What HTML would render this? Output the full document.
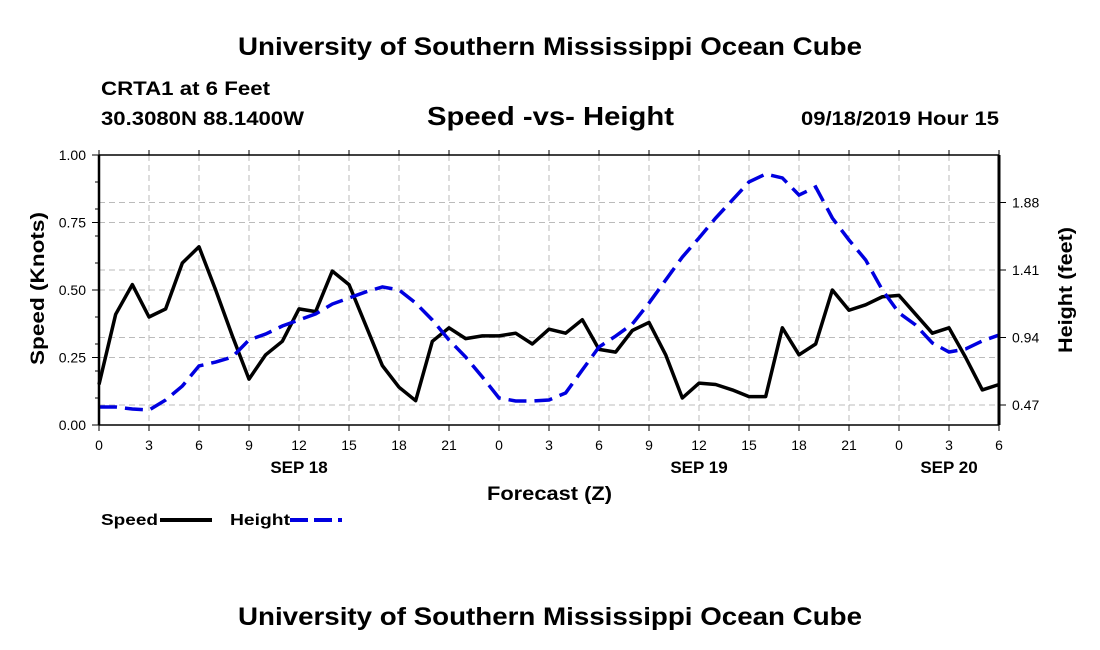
<!DOCTYPE html>
<html><head><meta charset="utf-8"><style>
body{margin:0;background:#fff;}
svg{display:block;font-family:"Liberation Sans",Arial,sans-serif;}
</style></head><body>
<svg id="chart" width="1100" height="650" viewBox="0 0 1100 650" xmlns="http://www.w3.org/2000/svg">
<text x="238" y="55" font-size="25" font-weight="bold" textLength="624" lengthAdjust="spacingAndGlyphs">University of Southern Mississippi Ocean Cube</text>
<text x="101" y="95" font-size="19" font-weight="bold" textLength="169" lengthAdjust="spacingAndGlyphs">CRTA1 at 6 Feet</text>
<text x="101" y="125" font-size="19" font-weight="bold" textLength="203" lengthAdjust="spacingAndGlyphs">30.3080N 88.1400W</text>
<text x="427" y="125" font-size="26" font-weight="bold" textLength="247" lengthAdjust="spacingAndGlyphs">Speed -vs- Height</text>
<text x="801" y="125" font-size="19" font-weight="bold" textLength="198" lengthAdjust="spacingAndGlyphs">09/18/2019 Hour 15</text>
<g id="grid"></g>
<g id="series"></g>
<g id="axes"></g>
<text transform="translate(44,365) rotate(-90)" font-size="19" font-weight="bold" textLength="153" lengthAdjust="spacingAndGlyphs">Speed (Knots)</text>
<text transform="translate(1072,353) rotate(-90)" font-size="19" font-weight="bold" textLength="126" lengthAdjust="spacingAndGlyphs">Height (feet)</text>
<text x="487" y="500" font-size="19" font-weight="bold" textLength="125" lengthAdjust="spacingAndGlyphs">Forecast (Z)</text>
<g>
<text x="101" y="525" font-size="16" font-weight="bold" textLength="57" lengthAdjust="spacingAndGlyphs">Speed</text>
<line x1="160" y1="520" x2="212" y2="520" stroke="#000" stroke-width="4"/>
<text x="230" y="525" font-size="16" font-weight="bold" textLength="60" lengthAdjust="spacingAndGlyphs">Height</text>
<line x1="290" y1="520" x2="342" y2="520" stroke="#0000e0" stroke-width="4" stroke-dasharray="18,6"/>
</g>
<text x="238" y="625" font-size="25" font-weight="bold" textLength="624" lengthAdjust="spacingAndGlyphs">University of Southern Mississippi Ocean Cube</text>
</svg>
<script>
const speed=[0.15,0.41,0.52,0.40,0.43,0.60,0.66,0.50,0.33,0.17,0.26,0.31,0.43,0.42,0.57,0.52,0.37,0.22,0.14,0.09,0.31,0.36,0.32,0.33,0.33,0.34,0.30,0.355,0.34,0.39,0.28,0.27,0.35,0.38,0.26,0.10,0.155,0.15,0.13,0.105,0.105,0.36,0.26,0.30,0.50,0.425,0.445,0.475,0.48,0.41,0.34,0.36,0.25,0.13,0.15];
const height=[0.456,0.456,0.442,0.435,0.505,0.602,0.742,0.769,0.804,0.923,0.964,1.02,1.062,1.104,1.173,1.215,1.257,1.292,1.271,1.18,1.062,0.923,0.804,0.665,0.519,0.498,0.498,0.505,0.554,0.714,0.874,0.95,1.034,1.18,1.34,1.5,1.633,1.772,1.897,2.023,2.078,2.051,1.932,1.988,1.772,1.619,1.48,1.271,1.111,1.027,0.902,0.839,0.86,0.916,0.957];
const xTickLabels=["0","3","6","9","12","15","18","21","0","3","6","9","12","15","18","21","0","3","6"];
const speedTicks=[0,0.25,0.5,0.75,1.0];
const speedTickLabels=["0.00","0.25","0.50","0.75","1.00"];
const heightTicks=[0.47,0.94,1.41,1.88];
const dayLabels=["SEP 18","SEP 19","SEP 20"];
const dayHours=[12,36,51];

const X0=99,X1=999,Y0=425,Y1=155,HMAX=54;
const x=h=>X0+(X1-X0)*h/HMAX;
const ys=v=>Y0-(Y0-Y1)*v;
const yh=v=>405-(v-0.47)/0.47*67.5;
const NS="http://www.w3.org/2000/svg";
function mk(t,a,p){const e=document.createElementNS(NS,t);for(const k in a)e.setAttribute(k,a[k]);p.appendChild(e);return e;}
const grid=document.getElementById('grid'),ser=document.getElementById('series'),ax=document.getElementById('axes');
const gs={stroke:"#bbb","stroke-width":1,"stroke-dasharray":"6,4"};
xTickLabels.forEach((l,i)=>{const gl=mk('line',Object.assign({x1:x(i*3),x2:x(i*3),y1:Y1,y2:Y0},gs),grid);

});
speedTicks.forEach(v=>{const gl=mk('line',Object.assign({x1:X0,x2:X1,y1:ys(v),y2:ys(v)},gs),grid);

});
heightTicks.forEach(v=>{const gl=mk('line',Object.assign({x1:X0,x2:X1,y1:yh(v),y2:yh(v)},gs),grid);

});
const sp=mk('polyline',{points:speed.map((v,i)=>x(i)+","+ys(v)).join(" "),fill:"none",stroke:"#000","stroke-width":3.5,"stroke-linejoin":"round"},ser);


const hp=mk('polyline',{points:height.map((v,i)=>x(i)+","+yh(v)).join(" "),fill:"none",stroke:"#0000e0","stroke-width":3.5,"stroke-dasharray":"18,8"},ser);


mk('line',{x1:X0,x2:X1,y1:Y1,y2:Y1,stroke:"#000","stroke-width":1.5},ax);
mk('line',{x1:X0,x2:X1,y1:Y0,y2:Y0,stroke:"#000","stroke-width":1.5},ax);
mk('line',{x1:X0,x2:X0,y1:Y1,y2:Y0,stroke:"#000","stroke-width":2.5},ax);
mk('line',{x1:X1,x2:X1,y1:Y1,y2:Y0,stroke:"#000","stroke-width":3},ax);
xTickLabels.forEach((l,i)=>{const xx=x(i*3);
mk('line',{x1:xx,x2:xx,y1:Y0,y2:Y0+6,stroke:"#000"},ax);
mk('line',{x1:xx,x2:xx,y1:Y1,y2:Y1-5,stroke:"#000"},ax);
const t=mk('text',{x:xx,y:450,"text-anchor":"middle","font-size":14},ax);t.textContent=l;

});
dayLabels.forEach((l,i)=>{const t=mk('text',{x:x(dayHours[i]),y:473,"text-anchor":"middle","font-size":17,"font-weight":"bold"},ax);t.textContent=l;

});
for(let v=0;v<=1.0001;v+=0.1){mk('line',{x1:X0-4,x2:X0,y1:ys(v),y2:ys(v),stroke:"#000"},ax);}
speedTicks.forEach((v,i)=>{mk('line',{x1:X0-7,x2:X0,y1:ys(v),y2:ys(v),stroke:"#000"},ax);
const t=mk('text',{x:X0-13,y:ys(v)+5,"text-anchor":"end","font-size":14},ax);t.textContent=speedTickLabels[i];

});
heightTicks.forEach(v=>{mk('line',{x1:X1,x2:X1+7,y1:yh(v),y2:yh(v),stroke:"#000"},ax);
const t=mk('text',{x:X1+13,y:yh(v)+5,"font-size":14},ax);t.textContent=v.toFixed(2);

});
</script>
</body></html>
